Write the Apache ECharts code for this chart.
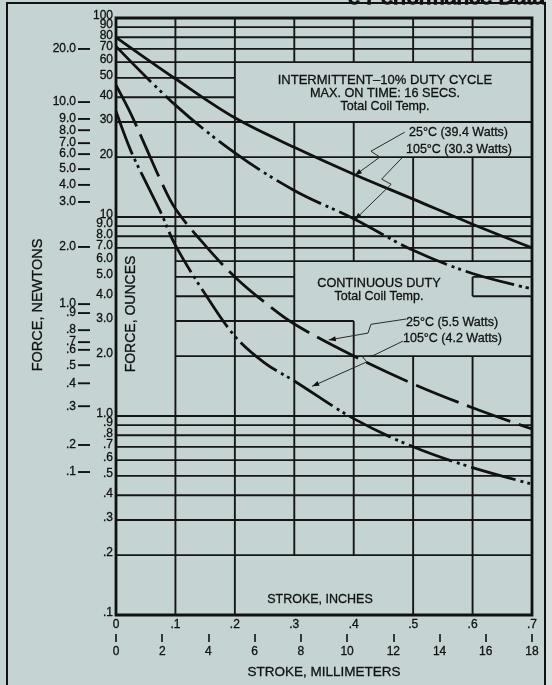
<!DOCTYPE html>
<html><head><meta charset="utf-8">
<script src="https://cdn.jsdelivr.net/npm/echarts@6/dist/echarts.min.js"></script>
<style>html,body{margin:0;padding:0;background:#c5d4d3}#c{width:552px;height:685px}</style>
</head><body><div id="c"></div>
<script>
// ---- data (stroke in inches, force in ounces) ----
const strokeIntermittent = [0, 0.1, 0.2, 0.3, 0.4, 0.5, 0.6, 0.7];
const int25  = [80, 49.5, 31.5, 22.4, 16.4, 12.3, 9.2, 7.0];
const int105 = [72, 36.5, 21, 13.6, 9.8, 6.8, 5.2, 4.35];
const strokeContinuous = [0, 0.025, 0.05, 0.075, 0.1, 0.15, 0.2, 0.25, 0.3, 0.4, 0.5, 0.6, 0.7];
const cont25  = [46, 33, 22.5, 15.3, 11, 7.2, 5.0, 3.73, 2.9, 2.0, 1.45, 1.1, 0.86];
const cont105 = [34, 21.5, 15, 10.6, 7.2, 4.1, 2.52, 1.85, 1.5, 0.97, 0.70, 0.55, 0.455];

const ounceTicks  = [100,90,80,70,60,50,40,30,20,10,9,8,7,6,5,4,3,2,1,0.9,0.8,0.7,0.6,0.5,0.4,0.3,0.2,0.1];
const ounceLabels = ['100','90','80','70','60','50','40','30','20','10','9.0','8.0','7.0','6.0','5.0','4.0','3.0','2.0','1.0','.9','.8','.7','.6','.5','.4','.3','.2','.1'];
const newtonLabels = ['20.0','10.0','9.0','8.0','7.0','6.0','5.0','4.0','3.0','2.0','1.0','.9','.8','.7','.6','.5','.4','.3','.2','.1'];
const newtonAtOunces = [69.9,37.8,31.1,27.3,23.5,20.7,17.4,14.5,11.9,7.07,3.65,3.29,2.70,2.35,2.15,1.80,1.46,1.12,0.715,0.523];
const inchLabels = ['0','.1','.2','.3','.4','.5','.6','.7'];
const mmMax = 18;

// grid segments: horizontal [x1, x2, oz], vertical [x, oz1, oz2]
const hSegs = [
  [0,0.7,90],[0,0.7,80],[0,0.7,70],[0,0.7,60],
  [0,0.2,50],[0,0.2,40],
  [0,0.7,30],[0,0.7,20],
  [0,0.7,10],[0,0.7,9],[0,0.7,8],[0,0.7,7],
  [0.1,0.7,6],[0.1,0.3,5],[0.6,0.7,5],[0.1,0.3,4],[0.6,0.7,4],[0.1,0.4,3],[0.1,0.7,2],
  [0,0.7,1],[0,0.7,0.9],[0,0.7,0.8],[0,0.7,0.7],[0,0.7,0.6],[0,0.7,0.5],[0,0.7,0.4],[0,0.7,0.3],[0,0.7,0.2]
];
const vSegs = [
  [0.1,0.1,100],[0.2,0.1,100],
  [0.3,0.2,30],[0.3,60,100],
  [0.4,0.2,3],[0.4,6,30],[0.4,60,100],
  [0.5,0.1,2],[0.5,6,20],[0.5,60,100],
  [0.6,0.1,2],[0.6,4,5],[0.6,6,20],[0.6,60,100]
];

// leader lines (inches, ounces), last point = arrow tip
const leaders = [
  [[0.486,26.7],[0.429,21.4],[0.444,20],[0.402,16.2]],
  [[0.481,19.8],[0.447,15.5],[0.463,14.6],[0.402,9.7]],
  [[0.488,3.07],[0.429,2.89],[0.424,2.61],[0.358,2.41]],
  [[0.483,2.38],[0.434,2.02],[0.415,1.98],[0.422,1.87],[0.330,1.41]]
];

const FONT = '"Liberation Sans", Arial, Helvetica, sans-serif';
const INK = '#111';
const chart = echarts.init(document.getElementById('c'));

const gridSegs = hSegs.map(s => [s[0], s[2], s[1], s[2]]).concat(vSegs.map(s => [s[0], s[1], s[0], s[2]]));
const pts = (xs, arr) => xs.map((x, i) => [x, arr[i]]);
const curve = (name, xs, arr, type) => ({
  name, type: 'line', data: pts(xs, arr), showSymbol: false, smooth: 0.35, z: 5,
  lineStyle: { color: INK, width: 2.8, type: type }
});
const axisText = { fontSize: 12, color: INK, fontFamily: FONT, textBorderColor: INK, textBorderWidth: 0.3 };

chart.setOption({
  backgroundColor: '#c5d4d3',
  animation: false,
  grid: { left: 116, right: 20, top: 18, bottom: 70, show: true, borderColor: INK, borderWidth: 2.8, backgroundColor: 'transparent' },
  xAxis: [
    { type: 'value', min: 0, max: 0.7, interval: 0.1,
      axisLine: { show: false }, axisTick: { show: false }, splitLine: { show: false },
      axisLabel: Object.assign({ margin: 4, formatter: v => inchLabels[Math.round(v * 10)] }, axisText) },
    { type: 'value', position: 'bottom', offset: 19, min: 0, max: mmMax, interval: 2,
      axisLine: { show: false }, splitLine: { show: false },
      axisTick: { show: true, length: 8, lineStyle: { color: INK, width: 1.6 } },
      axisLabel: Object.assign({ margin: 12 }, axisText),
      name: 'STROKE, MILLIMETERS', nameLocation: 'middle', nameGap: 31,
      nameTextStyle: { fontSize: 13.5, color: INK, fontFamily: FONT, textBorderColor: INK, textBorderWidth: 0.3 } }
  ],
  yAxis: { type: 'log', logBase: 10, min: 0.1, max: 100,
    axisLine: { show: false }, axisTick: { show: false }, axisLabel: { show: false }, splitLine: { show: false } },
  series: [
    { type: 'custom', data: gridSegs, silent: true, z: 1, clip: false,
      renderItem: (params, api) => {
        const p1 = api.coord([api.value(0), api.value(1)]);
        const p2 = api.coord([api.value(2), api.value(3)]);
        return { type: 'line', shape: { x1: p1[0], y1: p1[1], x2: p2[0], y2: p2[1] }, style: { stroke: '#161616', lineWidth: 1.9 } };
      } },
    curve('Intermittent 25°C (39.4 Watts)', strokeIntermittent, int25, 'solid'),
    curve('Intermittent 105°C (30.3 Watts)', strokeIntermittent, int105, [50, 5, 3, 4, 3, 5]),
    curve('Continuous 25°C (5.5 Watts)', strokeContinuous, cont25, [46, 9]),
    curve('Continuous 105°C (4.2 Watts)', strokeContinuous, cont105, [46, 5, 3, 4, 3, 5])
  ]
});

// ---- annotations positioned through the chart's scales ----
const px = (x, y) => chart.convertToPixel({ xAxisIndex: 0, yAxisIndex: 0 }, [x, y]);
const g = [];
const txt = (x, y, text, size, align, extra, sw) => Object.assign({
  type: 'text', x, y, z: 100, silent: true,
  style: { text, fontSize: size, fontFamily: FONT, fill: INK,
           stroke: INK, lineWidth: sw || 0.3, textAlign: align || 'left', textVerticalAlign: 'middle' }
}, extra || {});

// outer frame and cut-off heading
g.push({ type: 'rect', z: 90, silent: true, shape: { x: 7, y: 3, width: 538, height: 700 }, style: { fill: 'none', stroke: INK, lineWidth: 2 } });
g.push({ type: 'rect', z: 89, silent: true, shape: { x: 546, y: 0, width: 6, height: 685 }, style: { fill: '#d6dfdd' } });
g.push(txt(348, -2, 'e Performance Data', 22, 'left', null, 1.4));

// ounce tick labels
ounceTicks.forEach((v, i) => {
  const p = px(0, v);
  g.push(txt(p[0] - 3, p[1] - 2, ounceLabels[i], 12, 'right'));
});
// newton tick labels with dash marks
newtonAtOunces.forEach((v, i) => {
  const p = px(0, v);
  g.push(txt(p[0] - 40, p[1], newtonLabels[i], 12, 'right'));
  g.push({ type: 'line', z: 100, silent: true, shape: { x1: p[0] - 38, y1: p[1], x2: p[0] - 26, y2: p[1] }, style: { stroke: INK, lineWidth: 1.9 } });
});

// axis titles
g.push(txt(38, 305, 'FORCE, NEWTONS', 14.5, 'center', { rotation: Math.PI / 2 }));
g.push(txt(131, 314, 'FORCE, OUNCES', 14, 'center', { rotation: Math.PI / 2 }));
g.push(txt(320, 600, 'STROKE, INCHES', 12.5, 'center'));

// panel texts
g.push(txt(385, 80, 'INTERMITTENT–10% DUTY CYCLE', 13, 'center'));
g.push(txt(385, 93, 'MAX. ON TIME: 16 SECS.', 12.7, 'center'));
g.push(txt(385, 107, 'Total Coil Temp.', 12.5, 'center'));
g.push(txt(409, 133, '25°C (39.4 Watts)', 12.5, 'left'));
g.push(txt(406, 150, '105°C (30.3 Watts)', 12.5, 'left'));
g.push(txt(379, 283, 'CONTINUOUS DUTY', 12.7, 'center'));
g.push(txt(379, 297, 'Total Coil Temp.', 12.5, 'center'));
g.push(txt(406, 323, '25°C (5.5 Watts)', 12.5, 'left'));
g.push(txt(403, 339, '105°C (4.2 Watts)', 12.5, 'left'));

// leader lines with arrowheads
leaders.forEach(line => {
  const P = line.map(q => px(q[0], q[1]));
  g.push({ type: 'polyline', z: 100, silent: true, shape: { points: P }, style: { stroke: '#2a2a2a', lineWidth: 1, fill: 'none' } });
  const a = P[P.length - 2], b = P[P.length - 1];
  const dx = b[0] - a[0], dy = b[1] - a[1], len = Math.hypot(dx, dy), ux = dx / len, uy = dy / len;
  const L = 7, W = 2.6;
  g.push({ type: 'polygon', z: 100, silent: true, shape: { points: [
    [b[0], b[1]],
    [b[0] - ux * L - uy * W, b[1] - uy * L + ux * W],
    [b[0] - ux * L + uy * W, b[1] - uy * L - ux * W]
  ] }, style: { fill: INK } });
});

chart.setOption({ graphic: g });
</script>
</body></html>
